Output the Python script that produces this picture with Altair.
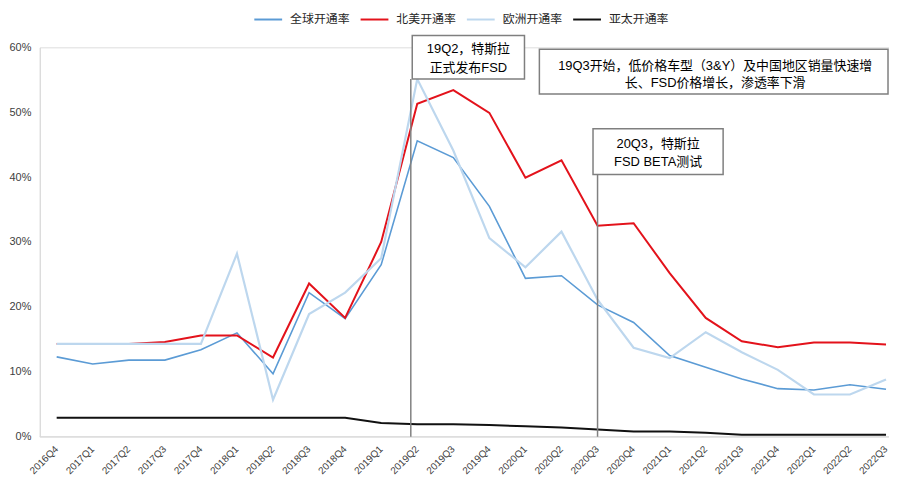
import altair as alt
import pandas as pd

quarters = ["2016Q4", "2017Q1", "2017Q2", "2017Q3", "2017Q4",
            "2018Q1", "2018Q2", "2018Q3", "2018Q4",
            "2019Q1", "2019Q2", "2019Q3", "2019Q4",
            "2020Q1", "2020Q2", "2020Q3", "2020Q4",
            "2021Q1", "2021Q2", "2021Q3", "2021Q4",
            "2022Q1", "2022Q2", "2022Q3"]

series_names = ["全球开通率", "北美开通率", "欧洲开通率", "亚太开通率"]
series_colors = ["#5B9BD5", "#E3121B", "#BDD7EE", "#111111"]
series_widths = [1.6, 2.0, 2.2, 2.0]

global_rate = [12.3, 11.2, 11.8, 11.8, 13.4, 16.0, 9.7, 22.2, 18.2,
               26.5, 45.6, 43.0, 35.5, 24.4, 24.8, 20.3, 17.6,
               12.5, 10.7, 8.9, 7.4, 7.2, 8.0, 7.3]
na_rate = [14.3, 14.3, 14.3, 14.6, 15.6, 15.6, 12.2, 23.6, 18.3,
           30.0, 51.3, 53.4, 49.9, 39.9, 42.6, 32.5, 32.9,
           25.2, 18.3, 14.7, 13.8, 14.5, 14.5, 14.2]
eu_rate = [14.3, 14.3, 14.3, 14.3, 14.3, 28.2, 5.7, 18.9, 22.2,
           27.5, 55.1, 44.1, 30.6, 26.1, 31.6, 21.1, 13.7,
           12.1, 16.1, 13.0, 10.3, 6.5, 6.5, 8.8]
apac_rate = [2.9, 2.9, 2.9, 2.9, 2.9, 2.9, 2.9, 2.9, 2.9,
             2.1, 1.9, 1.9, 1.8, 1.6, 1.4, 1.1, 0.8,
             0.8, 0.6, 0.3, 0.3, 0.3, 0.3, 0.3]

y_ticks = [0, 10, 20, 30, 40, 50, 60]

# event markers
event_quarters = ["2019Q2", "2020Q3"]
event_tops = [55.1, 40.4]
box_texts = ["19Q2，特斯拉\n正式发布FSD",
             "19Q3开始，低价格车型（3&Y）及中国地区销量快速增\n长、FSD价格增长，渗透率下滑",
             "20Q3，特斯拉\nFSD BETA测试"]

FONT = "Liberation Sans, Noto Sans CJK SC"
W, H = 855, 392

rows = []
for name, vals in zip(series_names, [global_rate, na_rate, eu_rate, apac_rate]):
    for q, v in zip(quarters, vals):
        rows.append({"quarter": q, "series": name, "rate": v})
df = pd.DataFrame(rows)

x_scale = alt.Scale(type="point", domain=quarters, range=[17, 852], padding=0)
x_enc = alt.X("quarter:O", sort=quarters, scale=x_scale,
              axis=alt.Axis(title=None, labelAngle=-45, labelFontSize=10,
                            labelColor="#404040", ticks=False,
                            domain=False, labelPadding=7, labelOffset=-4,
                            labelFont=FONT))
y_enc = alt.Y("rate:Q", scale=alt.Scale(domain=[0, 60], nice=False),
              axis=alt.Axis(title=None, values=y_ticks,
                            labelExpr="datum.value + '%'", grid=False,
                            ticks=False, domainColor="#D9D9D9",
                            labelFontSize=11, labelColor="#404040",
                            labelPadding=9, labelFont=FONT))
color_enc = alt.Color("series:N",
                      scale=alt.Scale(domain=series_names, range=series_colors),
                      legend=alt.Legend(title=None, orient="none",
                                        direction="horizontal",
                                        legendX=215, legendY=-43,
                                        symbolType="stroke", symbolSize=784,
                                        symbolStrokeWidth=2,
                                        labelFontSize=12, labelColor="#262626",
                                        labelFont=FONT, columnPadding=6,
                                        labelOffset=7))

one = pd.DataFrame({"k": [0]})

x_axis_line = alt.Chart(one).mark_rule(color="#D9D9D9", strokeWidth=1).encode(
    x=alt.value(0), x2=alt.value(W), y=alt.value(H))

layers = []
for name, w in zip(series_names, series_widths):
    layers.append(
        alt.Chart(df[df["series"] == name]).mark_line(strokeWidth=w).encode(
            x=x_enc, y=y_enc, color=color_enc)
    )

ev = pd.DataFrame({"quarter": event_quarters, "top": event_tops})
rule1 = alt.Chart(ev.iloc[[0]]).mark_rule(color="#808080", strokeWidth=1.5,
                                          xOffset=-6.5).encode(
    x=alt.X("quarter:O", sort=quarters, scale=x_scale), y="top:Q", y2=alt.datum(0))
rule2 = alt.Chart(ev.iloc[[1]]).mark_rule(color="#808080", strokeWidth=1.5).encode(
    x=alt.X("quarter:O", sort=quarters, scale=x_scale), y="top:Q", y2=alt.datum(0))


def box(x0, x1, y0, y1):
    return alt.Chart(one).mark_rect(fill="white", stroke="#7F7F7F",
                                    strokeWidth=1.5).encode(
        x=alt.value(x0), x2=alt.value(x1), y=alt.value(y0), y2=alt.value(y1))


def label(txt, cx, cy, lh):
    return alt.Chart(one).mark_text(align="center", baseline="middle",
                                    fontSize=13, lineHeight=lh, font=FONT,
                                    color="#000000", lineBreak="\n").encode(
        x=alt.value(cx), y=alt.value(cy), text=alt.value(txt))


annots = [
    box(375, 488, -12, 32), label(box_texts[0], 431.5, 2, 19),
    box(503, 854, 2, 47), label(box_texts[1], 680, 19, 17),
    box(557, 688, 82, 128), label(box_texts[2], 622.5, 97, 18),
]

chart = alt.layer(x_axis_line, *layers, rule1, rule2, *annots).properties(
    width=W, height=H,
    autosize=alt.AutoSizeParams(type="none"),
    padding={"left": 32, "top": 38, "right": 0, "bottom": 38},
).configure_view(stroke=None).configure(font=FONT)

chart.save("out.html", embed_options={"renderer": "svg", "actions": False})
